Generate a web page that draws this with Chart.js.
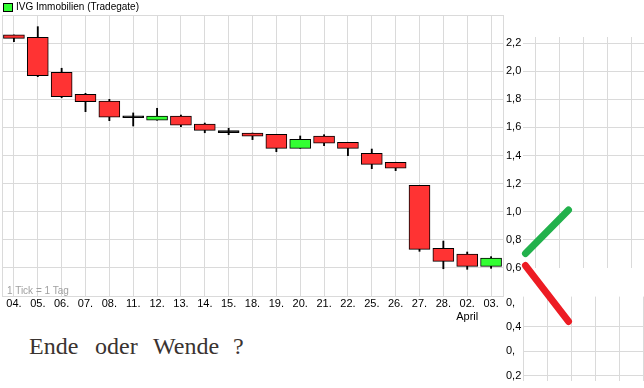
<!DOCTYPE html>
<html>
<head>
<meta charset="utf-8">
<script src="https://cdn.jsdelivr.net/npm/chart.js@4.4.1/dist/chart.umd.min.js"></script>
<style>
  html, body { margin: 0; padding: 0; background: #fff; }
  body { width: 644px; height: 388px; position: relative; overflow: hidden; font-family: "Liberation Sans", Arial, sans-serif; }
  .box { position: absolute; }
  #legend { left: 16px; top: 1px; font-size: 10px; line-height: 12px; color: #000; white-space: nowrap; }
  #swatch { position: absolute; left: 3px; top: 3px; width: 8px; height: 7px; border: 1px solid #000; background: #33ff33; }
  #tickInfo { left: 7px; top: 285px; font-size: 10px; line-height: 12px; color: #a0a0a0; white-space: nowrap; }
  .note { position: absolute; top: 334px; font-family: "Liberation Serif", "Times New Roman", serif; font-size: 24px; line-height: 24px; color: #3a3330; white-space: nowrap; }
</style>
</head>
<body>
<div class="box" style="left:0;top:0;width:530px;height:330px"><canvas id="main" width="530" height="330"></canvas></div>
<div class="box" style="left:523px;top:37px;width:121px;height:231px"><canvas id="doodleTop" width="121" height="231"></canvas></div>
<div class="box" style="left:506px;top:290px;width:138px;height:98px"><canvas id="doodleBottom" width="138" height="98"></canvas></div>
<div class="box" style="left:513px;top:15px;width:131px;height:373px"><canvas id="arrows" width="131" height="373"></canvas></div>

<div id="swatch"></div>
<div id="legend" class="box">IVG Immobilien (Tradegate)</div>
<div id="tickInfo" class="box">1 Tick = 1 Tag</div>
<span class="note" style="left:29px">Ende</span>
<span class="note" style="left:95px">oder</span>
<span class="note" style="left:153px">Wende</span>
<span class="note" style="left:233px">?</span>

<script>
// Handelstage (Tradegate)
const days = ['04.', '05.', '06.', '07.', '08.', '11.', '12.', '13.', '14.', '15.', '18.', '19.', '20.', '21.', '22.', '25.', '26.', '27.', '28.', ['02.', 'April'], '03.'];

// Kurse in EUR
const openPrices  = [2.258, 2.241, 1.992, 1.836, 1.788, 1.683, 1.651, 1.681, 1.624, 1.577, 1.560, 1.551, 1.451, 1.539, 1.494, 1.416, 1.352, 1.188, 0.739, 0.699, 0.611];
const closePrices = [2.234, 1.968, 1.819, 1.783, 1.672, 1.669, 1.681, 1.615, 1.579, 1.563, 1.537, 1.451, 1.515, 1.487, 1.451, 1.337, 1.309, 0.732, 0.647, 0.611, 0.670];
const highPrices  = [2.258, 2.317, 2.021, 1.843, 1.800, 1.703, 1.736, 1.688, 1.631, 1.594, 1.560, 1.551, 1.539, 1.548, 1.494, 1.446, 1.352, 1.188, 0.791, 0.713, 0.680];
const lowPrices   = [2.210, 1.961, 1.811, 1.712, 1.648, 1.610, 1.651, 1.605, 1.562, 1.548, 1.513, 1.427, 1.451, 1.470, 1.399, 1.306, 1.292, 0.718, 0.594, 0.590, 0.597];

// Skizze rechts: Beschriftung des eingefügten Ausschnitts und die zwei Pfeile
const lowerTickLabels = ['0,2', '0,', '0,4', '0,'];
const upArrow   = [{ x: 0.104, y: 0.703 }, { x: 1.896, y: 1.012 }];
const downArrow = [{ x: 0.104, y: 0.617 }, { x: 1.896, y: 0.219 }];

const gridGrey = '#dadada';
const tickFont = { family: 'Liberation Sans', size: 11 };

const bodyColors = openPrices.map((o, i) => {
    const c = closePrices[i];
    if (Math.abs(c - o) < 0.02) return '#000000';
    return c > o ? '#33ff33' : '#ff3333';
});

// Rahmen um die Zeichenfläche
const frame = {
    id: 'frame',
    beforeDatasetsDraw(chart) {
        const a = chart.chartArea;
        const ctx = chart.ctx;
        ctx.save();
        ctx.strokeStyle = gridGrey;
        ctx.lineWidth = 1;
        ctx.strokeRect(Math.round(a.left) + 0.5, Math.round(a.top) + 0.5, Math.round(a.right - a.left), Math.round(a.bottom - a.top));
        ctx.restore();
    }
};

new Chart(document.getElementById('main'), {
    type: 'bar',
    data: {
        labels: days,
        datasets: [{
            label: 'Körper',
            data: days.map((d, i) => [openPrices[i], closePrices[i]]),
            backgroundColor: bodyColors,
            borderColor: '#000',
            borderWidth: 1,
            borderSkipped: false,
            barThickness: 21,
            grouped: false,
            order: 0,
        }, {
            label: 'Docht',
            data: days.map((d, i) => [lowPrices[i], highPrices[i]]),
            backgroundColor: '#000',
            borderWidth: 0,
            barThickness: 1.2,
            grouped: false,
            order: 1,
        }],
    },
    options: {
        responsive: false,
        animation: false,
        events: [],
        layout: { padding: { left: 2, top: 15, right: 0, bottom: 0 } },
        plugins: { legend: { display: false }, tooltip: { enabled: false } },
        scales: {
            x: {
                offset: true,
                grid: { offset: false, color: gridGrey, drawTicks: false },
                border: { color: gridGrey },
                ticks: { autoSkip: false, maxRotation: 0, padding: 1, color: '#000', font: tickFont },
                afterFit: s => { s.height = 34; },
            },
            y: {
                position: 'right',
                min: 0.4,
                max: 2.4,
                grid: { color: gridGrey, drawTicks: false },
                border: { color: gridGrey },
                ticks: {
                    stepSize: 0.2,
                    padding: 3,
                    color: '#000',
                    font: tickFont,
                    callback: v => (v > 0.5 && v < 2.3) ? v.toFixed(1).replace('.', ',') : '',
                },
                afterFit: s => { s.width = 27; },
            },
        },
    },
    plugins: [frame],
});

// Skizze oben rechts: nur Raster
new Chart(document.getElementById('doodleTop'), {
    type: 'line',
    data: { datasets: [] },
    options: {
        responsive: false,
        animation: false,
        events: [],
        layout: { padding: 0 },
        plugins: { legend: { display: false }, tooltip: { enabled: false } },
        scales: {
            x: {
                type: 'linear', min: -0.54, max: 4.5,
                ticks: { display: false, stepSize: 1, includeBounds: false },
                grid: { color: gridGrey, drawTicks: false },
                border: { display: false },
            },
            y: {
                type: 'linear', min: 0.6, max: 2.2434,
                ticks: { display: false, stepSize: 0.2, includeBounds: false },
                grid: { color: c => c.tick && c.tick.value < 0.7 ? 'rgba(0,0,0,0)' : gridGrey, drawTicks: false },
                border: { display: false },
            },
        },
    },
});

// Skizze unten rechts: eingefügter Ausschnitt
new Chart(document.getElementById('doodleBottom'), {
    type: 'line',
    data: { datasets: [] },
    options: {
        responsive: false,
        animation: false,
        events: [],
        layout: { padding: 0 },
        plugins: { legend: { display: false }, tooltip: { enabled: false } },
        scales: {
            x: {
                type: 'linear', min: 0, max: 5.04,
                ticks: { display: false, stepSize: 1, includeBounds: false },
                grid: { color: gridGrey, drawTicks: false },
                border: { display: false },
            },
            y: {
                type: 'linear', position: 'left', min: 0.1766, max: 0.5241,
                ticks: {
                    stepSize: 0.1, includeBounds: false, padding: 0, crossAlign: 'far',
                    color: '#000', font: tickFont,
                    callback: (v, i) => lowerTickLabels[i],
                },
                grid: { color: c => c.tick && c.tick.value > 0.45 ? 'rgba(0,0,0,0)' : gridGrey, drawTicks: false },
                border: { display: false },
                afterFit: s => { s.width = 17; },
            },
        },
    },
});

// Pfeile: rauf oder runter
new Chart(document.getElementById('arrows'), {
    type: 'line',
    data: {
        datasets: [{
            label: 'Wende',
            data: upArrow,
            borderColor: '#22b14c',
            borderWidth: 7,
            borderCapStyle: 'round',
            pointRadius: 0,
            clip: false,
        }, {
            label: 'Ende',
            data: downArrow,
            borderColor: '#ed1c24',
            borderWidth: 7,
            borderCapStyle: 'round',
            pointRadius: 0,
            clip: false,
        }],
    },
    options: {
        responsive: false,
        animation: false,
        events: [],
        layout: { padding: 0 },
        plugins: { legend: { display: false }, tooltip: { enabled: false } },
        scales: {
            x: { type: 'linear', display: false, min: -0.4167, max: 5.0417 },
            y: { type: 'linear', display: false, min: -0.2548, max: 2.4 },
        },
    },
});
</script>
</body>
</html>
